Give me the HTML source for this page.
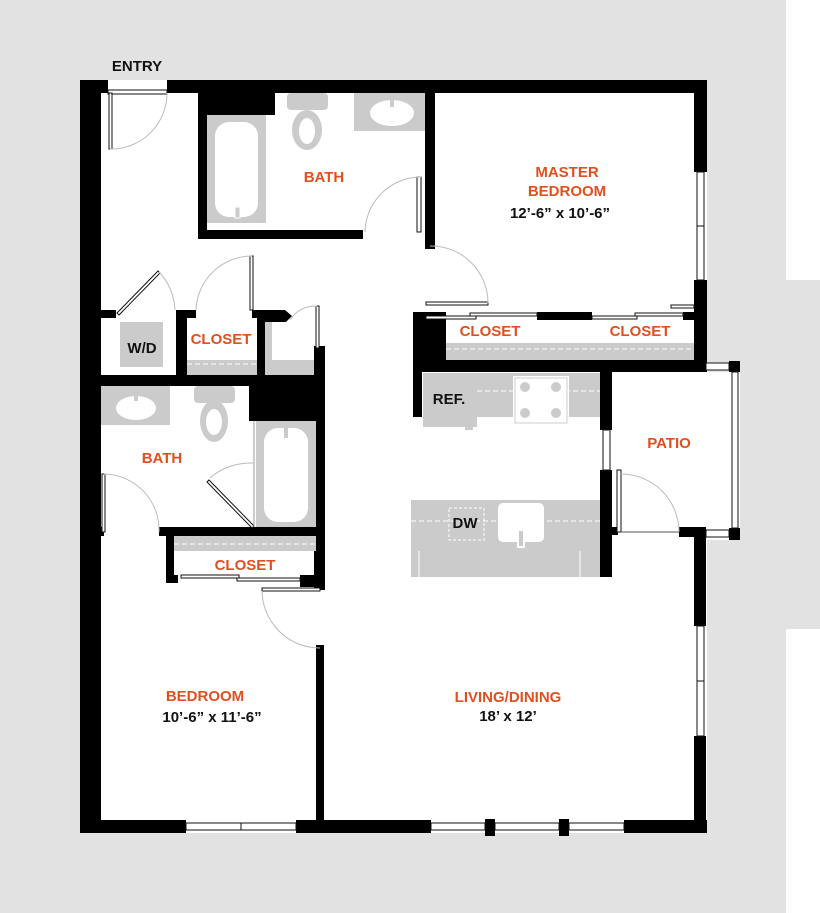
<!DOCTYPE html>
<html><head><meta charset="utf-8"><style>
html,body{margin:0;padding:0;background:#fff}
svg{display:block}
text{font-family:"Liberation Sans",sans-serif;font-weight:bold;font-size:15px;text-anchor:middle}
.o{fill:#e0501e}.k{fill:#111}
.g{fill:#cbcbcb}
.arc{fill:none;stroke:#bbb;stroke-width:1}
.leaf{fill:#fff;stroke:#111;stroke-width:1}
.win{fill:#fff;stroke:#111;stroke-width:1}
.dash{stroke:#fff;stroke-width:1;stroke-dasharray:5 3}
</style></head><body>
<svg width="820" height="913" viewBox="0 0 820 913" xmlns="http://www.w3.org/2000/svg">
<rect x="0" y="0" width="786" height="913" fill="#e2e2e2"/>
<rect x="786" y="280" width="34" height="349" fill="#e2e2e2"/>
<rect x="80" y="80" width="627" height="753" fill="#fff"/>
<rect x="612" y="372" width="128" height="168" fill="#fff"/>
<g fill="#000">
<rect x="80" y="80" width="28" height="13"/>
<rect x="167" y="80" width="540" height="13"/>
<rect x="80" y="80" width="21" height="753"/>
<rect x="694" y="80" width="13" height="92"/>
<rect x="694" y="280" width="13" height="92"/>
<rect x="694" y="527" width="12" height="99"/>
<rect x="694" y="736" width="12" height="97"/>
<rect x="80" y="820" width="106" height="13"/>
<rect x="296" y="820" width="135" height="13"/>
<rect x="624" y="820" width="83" height="13"/>
<rect x="485" y="819" width="10" height="17"/>
<rect x="559" y="819" width="10" height="17"/>
<rect x="198" y="93" width="77" height="22"/>
<rect x="198" y="93" width="9" height="146"/>
<rect x="198" y="230" width="165" height="9"/>
<rect x="425" y="93" width="10" height="156"/>
<rect x="413" y="312" width="33" height="60"/>
<rect x="413" y="360" width="293" height="12"/>
<rect x="537" y="312" width="55" height="8"/>
<rect x="683" y="312" width="11" height="8"/>
<rect x="729" y="361" width="11" height="11"/>
<rect x="729" y="528" width="11" height="12"/>
<rect x="679" y="527" width="27" height="10"/>
<rect x="600" y="372" width="12" height="58"/>
<rect x="600" y="470" width="12" height="107"/>
<rect x="612" y="527" width="6" height="8"/>
<rect x="413" y="372" width="9" height="45"/>
<rect x="80" y="310" width="36" height="8"/>
<rect x="176" y="310" width="11" height="65"/>
<rect x="187" y="310" width="9" height="8"/>
<rect x="252" y="310" width="13" height="8"/>
<rect x="257" y="310" width="8" height="65"/>
<polygon points="265,310 285,310 292,316 286,322 265,322"/>
<rect x="314" y="346" width="11" height="244"/>
<rect x="80" y="375" width="245" height="11"/>
<rect x="249" y="386" width="68" height="35"/>
<rect x="80" y="527" width="24" height="9"/>
<rect x="159" y="527" width="157" height="9"/>
<rect x="166" y="536" width="8" height="47"/>
<rect x="166" y="575" width="12" height="8"/>
<rect x="300" y="575" width="25" height="12"/>
<rect x="316" y="645" width="8" height="180"/>
</g>
<rect class="win" x="108" y="90" width="59" height="4"/>
<rect class="win" x="697" y="172" width="7" height="108"/>
<line x1="697" y1="226" x2="704" y2="226" stroke="#111"/>
<rect class="win" x="706" y="363" width="23" height="7"/>
<rect class="win" x="732" y="372" width="6" height="156"/>
<rect class="win" x="706" y="530" width="23" height="7"/>
<rect class="win" x="603" y="430" width="7" height="40"/>
<rect class="win" x="697" y="626" width="7" height="110"/>
<line x1="697" y1="681" x2="704" y2="681" stroke="#111"/>
<rect class="win" x="186" y="823" width="110" height="7"/>
<line x1="241" y1="823" x2="241" y2="830" stroke="#111"/>
<rect class="win" x="431" y="823" width="54" height="7"/>
<rect class="win" x="495" y="823" width="64" height="7"/>
<rect class="win" x="569" y="823" width="55" height="7"/>
<rect class="g" x="207" y="115" width="59" height="108"/>
<rect x="215" y="122" width="43" height="95" rx="14" fill="#fff"/>
<rect x="235" y="207" width="5" height="11" class="g" stroke="#fff"/>
<rect class="g" x="287" y="93" width="41" height="17" rx="4"/>
<ellipse cx="307" cy="130" rx="15" ry="20" class="g"/>
<ellipse cx="307" cy="131" rx="8" ry="13" fill="#fff"/>
<rect class="g" x="354" y="93" width="71" height="38"/>
<ellipse cx="392" cy="113" rx="22" ry="13" fill="#fff"/>
<rect class="g" x="390" y="95" width="4" height="12"/>
<rect class="g" x="446" y="343" width="248" height="17"/>
<line class="dash" x1="446" y1="349" x2="694" y2="349"/>
<rect class="leaf" x="426" y="302" width="62" height="3"/>
<rect class="leaf" x="426" y="316" width="50" height="3"/>
<rect class="leaf" x="470" y="313" width="67" height="3"/>
<rect class="leaf" x="592" y="316" width="45" height="3"/>
<rect class="leaf" x="635" y="313" width="48" height="3"/>
<rect class="g" x="477" y="373" width="123" height="44"/>
<line class="dash" x1="477" y1="391" x2="600" y2="391"/>
<rect class="g" x="423" y="373" width="54" height="54"/>
<rect class="g" x="465" y="427" width="8" height="3"/>
<rect x="513" y="376" width="56" height="49" fill="#fff"/>
<rect x="515" y="378" width="52" height="45" fill="#fff" stroke="#ccc"/>
<circle class="g" cx="525" cy="387" r="5"/><circle class="g" cx="556" cy="387" r="5"/>
<circle class="g" cx="525" cy="413" r="5"/><circle class="g" cx="556" cy="413" r="5"/>
<rect class="g" x="411" y="500" width="189" height="50"/>
<rect class="g" x="411" y="550" width="176" height="27"/>
<rect class="g" x="587" y="543" width="13" height="34"/>
<line x1="419" y1="551" x2="419" y2="577" stroke="#fff"/>
<line x1="580" y1="551" x2="580" y2="577" stroke="#fff"/>
<line class="dash" x1="411" y1="521" x2="600" y2="521"/>
<rect x="449" y="508" width="35" height="32" fill="none" stroke="#fff" stroke-dasharray="3 2"/>
<rect x="498" y="503" width="46" height="39" rx="5" fill="#fff"/>
<rect x="517" y="530" width="8" height="18" fill="#fff"/>
<rect class="g" x="519" y="531" width="4" height="15"/>
<rect class="g" x="120" y="322" width="43" height="45"/>
<rect class="g" x="187" y="360" width="70" height="15"/>
<line class="dash" x1="187" y1="364" x2="257" y2="364"/>
<rect class="g" x="265" y="322" width="49" height="53"/>
<rect x="272" y="322" width="42" height="38" fill="#fff"/>
<rect class="g" x="101" y="386" width="69" height="39"/>
<ellipse cx="136" cy="408" rx="20" ry="12" fill="#fff"/>
<rect class="g" x="134" y="390" width="4" height="11"/>
<rect class="g" x="194" y="386" width="41" height="17" rx="4"/>
<ellipse cx="214" cy="421" rx="14" ry="21" class="g"/>
<ellipse cx="214" cy="422" rx="8" ry="13" fill="#fff"/>
<rect class="g" x="256" y="421" width="60" height="106"/>
<rect x="264" y="428" width="44" height="94" rx="14" fill="#fff"/>
<rect class="g" x="284" y="427" width="4" height="11"/>
<rect class="g" x="174" y="536" width="142" height="15"/>
<line class="dash" x1="174" y1="544" x2="316" y2="544"/>
<rect class="leaf" x="181" y="575" width="58" height="3"/>
<rect class="leaf" x="237" y="578" width="63" height="3"/>
<rect class="leaf" x="262" y="588" width="58" height="3"/>
<rect class="leaf" x="109" y="93" width="3" height="56"/>
<path class="arc" d="M110,149 A56,56 0 0 0 167,93"/>
<rect class="leaf" x="417" y="177" width="4" height="55"/>
<path class="arc" d="M365,232 A56,56 0 0 1 421,177"/>
<path class="arc" d="M430,246 A57,57 0 0 1 488,303"/>
<rect class="leaf" x="671" y="305" width="23" height="3"/>
<polygon class="leaf" points="117,313 158,271 160,273 119,315"/>
<path class="arc" d="M159,272 A58,58 0 0 1 175,310"/>
<rect class="leaf" x="250" y="256" width="3" height="54"/>
<path class="arc" d="M196,310 A56,56 0 0 1 252,256"/>
<rect class="leaf" x="316" y="306" width="3" height="42"/>
<path class="arc" d="M290,320 A30,30 0 0 1 317,306"/>
<rect class="leaf" x="102" y="474" width="3" height="58"/>
<path class="arc" d="M104,474 A56,56 0 0 1 159,532"/>
<polygon class="leaf" points="207,482 209,480 254,526 252,528"/>
<path class="arc" d="M210,478 A62,62 0 0 1 253,463"/>
<line x1="254" y1="421" x2="254" y2="527" stroke="#999"/>
<path class="arc" d="M262,591 A58,58 0 0 0 320,648"/>
<rect class="leaf" x="617" y="470" width="4" height="62"/>
<path class="arc" d="M621,474 A58,58 0 0 1 679,532"/>
<line x1="621" y1="532" x2="679" y2="532" stroke="#555"/>
<text class="k" x="137" y="71">ENTRY</text>
<text class="o" x="324" y="182">BATH</text>
<text class="o" x="567" y="177">MASTER</text>
<text class="o" x="567" y="196">BEDROOM</text>
<text class="k" x="560" y="218">12’-6” x 10’-6”</text>
<text class="k" x="142" y="353">W/D</text>
<text class="o" x="221" y="344">CLOSET</text>
<text class="o" x="490" y="336">CLOSET</text>
<text class="o" x="640" y="336">CLOSET</text>
<text class="k" x="449" y="404">REF.</text>
<text class="o" x="669" y="448">PATIO</text>
<text class="k" x="465" y="528">DW</text>
<text class="o" x="162" y="463">BATH</text>
<text class="o" x="245" y="570">CLOSET</text>
<text class="o" x="205" y="701">BEDROOM</text>
<text class="k" x="212" y="722">10’-6” x 11’-6”</text>
<text class="o" x="508" y="702">LIVING/DINING</text>
<text class="k" x="508" y="721">18’ x 12’</text>
</svg>
</body></html>
